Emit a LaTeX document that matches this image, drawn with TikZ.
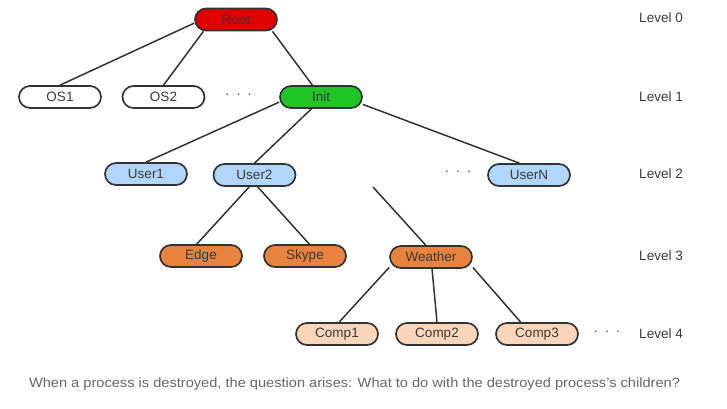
\documentclass[tikz,border=0pt]{standalone}
\usepackage{fontspec}
\setmainfont{Liberation Sans}
\usepackage{graphicx}

\definecolor{edgegray}{HTML}{333333}
\definecolor{textgray}{HTML}{3A3A3A}
\definecolor{capgray}{HTML}{666666}
\definecolor{rootred}{HTML}{E00000}
\definecolor{initgreen}{HTML}{1FC425}
\definecolor{userblue}{HTML}{B1D6F9}
\definecolor{apporange}{HTML}{E8833F}
\definecolor{comppeach}{HTML}{F9D6B9}

\tikzset{
  proc/.style={draw=edgegray, line width=1.7pt, rounded corners=11pt,
    minimum width=82pt, minimum height=22pt, inner sep=0pt,
    text=textgray, font=\fontsize{13.5}{16}\selectfont},
  link/.style={draw=edgegray, line width=1.5pt},
  lvl/.style={text=textgray, font=\fontsize{13.5}{16}\selectfont},
  gap/.style={text=textgray, font=\fontsize{13.5}{16}\selectfont}
}
\newcommand{\gapdots}{·\hspace{6.7pt}·\hspace{6.7pt}·}

\begin{document}
\begin{tikzpicture}[x=1pt, y=-1pt]
\useasboundingbox (0,0) rectangle (727,408);

% Level 0 and 1
\node[proc, fill=rootred] (root) at (236,19.5) {Root};
\node[proc, fill=white] (os1) at (60,97) {OS1};
\node[proc, fill=white] (os2) at (163.5,97) {OS2};
\node[gap] (dots1) at (238.5,96) {\gapdots};
\node[proc, fill=initgreen] (init) at (321,97) {Init};

% Level 2
\node[proc, fill=userblue] (user1) at (146,174) {User1};
\node[proc, fill=userblue] (user2) at (254.5,175) {User2};
\node[gap] (dots2) at (458,173) {\gapdots};
\node[proc, fill=userblue] (usern) at (529,175) {UserN};

% Level 3
\node[proc, fill=apporange] (edge) at (201,256) {Edge};
\node[proc, fill=apporange] (skype) at (305,256) {Skype};
\node[proc, fill=apporange] (weather) at (431,257) {Weather};

% Level 4
\node[proc, fill=comppeach] (comp1) at (337,334) {Comp1};
\node[proc, fill=comppeach] (comp2) at (437,334) {Comp2};
\node[proc, fill=comppeach] (comp3) at (537,334) {Comp3};
\node[gap] (dots3) at (607,333) {\gapdots};

% Level labels
\foreach \lv/\ly in {0/18, 1/97, 2/174, 3/256, 4/334}
  \node[lvl] (level\lv) at (661,\ly) {Level \lv};

% Draw links
\draw[link] (root.185) -- (os1.north);
\draw[link] (root.200) -- (os2.north);
\draw[link] (root.-18) -- (init.126);
\draw[link] (init.187) -- (user1.north);
\draw[link] (init.231) -- (user2.north);
\draw[link] (init.-10) -- (usern.129);
\draw[link] (user2.246) -- (edge.110);
\draw[link] (user2.-75) -- (skype.70);
\coordinate (orphan) at (373,187);
\draw[link] (orphan) -- (weather.114);
\draw[link] (weather.194) -- (comp1.80);
\draw[link] (weather.-85) -- (comp2.north);
\draw[link] (weather.-14) -- (comp3.144);

% Caption
\node[text=capgray, font=\fontsize{13.5}{16}\selectfont] (caption) at (354.5,384)
  {\resizebox{651pt}{\height}{When a process is destroyed, the question arises: What to do with the destroyed process's children?}};
\end{tikzpicture}
\end{document}
